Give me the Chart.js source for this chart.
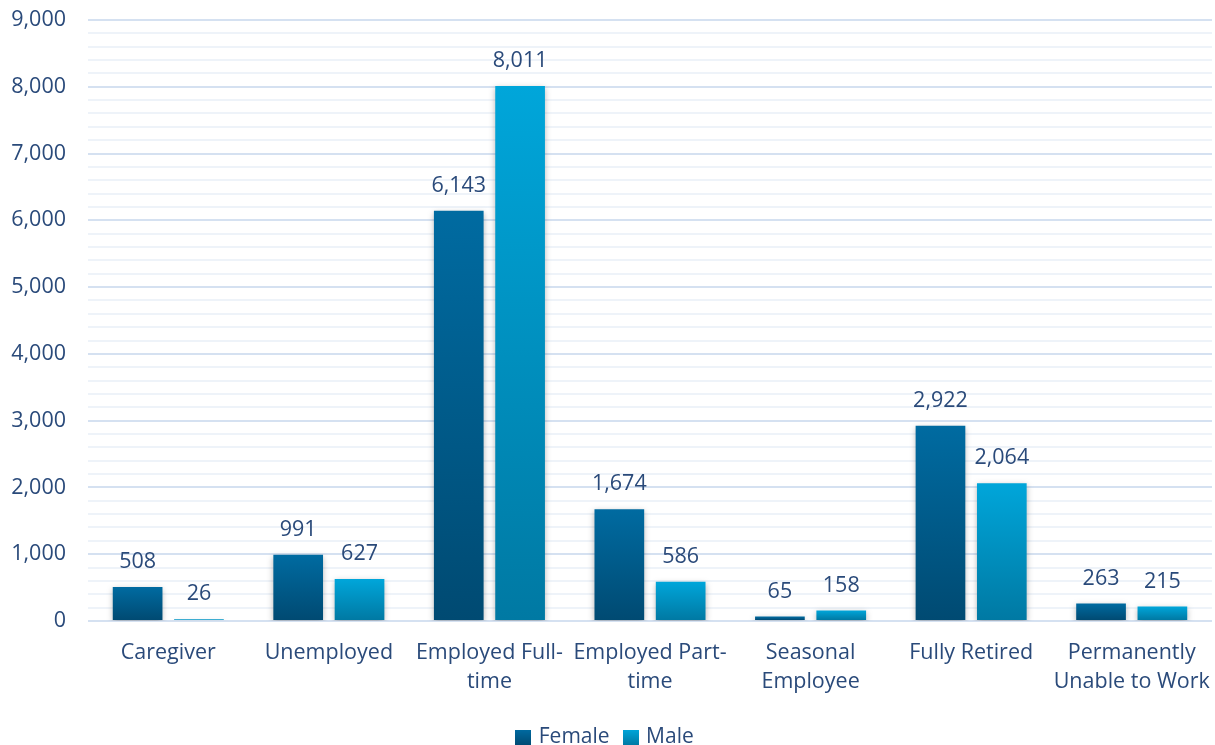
<!DOCTYPE html>
<html>
<head>
<meta charset="utf-8">
<script src="https://cdn.jsdelivr.net/npm/chart.js@4/dist/chart.umd.min.js"></script>
<style>
  html, body { margin: 0; padding: 0; background: #ffffff; }
  #wrap { width: 1215px; height: 745px; position: relative; }
</style>
</head>
<body>
<div id="wrap"><canvas id="c" width="1215" height="745"></canvas></div>
<script>
const categories = [
  "Caregiver",
  "Unemployed",
  ["Employed Full-", "time"],
  ["Employed Part-", "time"],
  ["Seasonal", "Employee"],
  "Fully Retired",
  ["Permanently", "Unable to Work"]
];
const seriesNames = ["Female", "Male"];
const femaleValues = [508, 991, 6143, 1674, 65, 2922, 263];
const maleValues = [26, 627, 8011, 586, 158, 2064, 215];
const yMin = 0;
const yMax = 9000;
const yMajorStep = 1000;
const yMinorStep = 200;

const textColor = '#2a4a7a';
const fontFamily = "'Open Sans', 'Noto Sans', sans-serif";
const gradStops = {
  Female: ['#006ba1', '#004a72'],
  Male: ['#00a6da', '#0079a3']
};

const barStylePlugin = {
  id: 'barStyle',
  beforeDatasetsDraw(chart) {
    const ctx = chart.ctx;
    chart.data.datasets.forEach((ds, i) => {
      const meta = chart.getDatasetMeta(i);
      const stops = gradStops[ds.label];
      meta.data.forEach(el => {
        const top = Math.min(el.y, el.base);
        const bot = Math.max(el.y, el.base);
        const g = ctx.createLinearGradient(0, top, 0, bot + 0.01);
        g.addColorStop(0, stops[0]);
        g.addColorStop(1, stops[1]);
        el.options = Object.assign({}, el.options, { backgroundColor: g });
      });
    });
  },
  beforeDatasetDraw(chart) {
    const ctx = chart.ctx;
    ctx.save();
    ctx.shadowColor = 'rgba(0,0,0,0.28)';
    ctx.shadowBlur = 6;
    ctx.shadowOffsetX = 0;
    ctx.shadowOffsetY = 2;
  },
  afterDatasetDraw(chart) {
    chart.ctx.restore();
  },
  afterDatasetsDraw(chart) {
    const ctx = chart.ctx;
    ctx.save();
    ctx.font = "21.5px " + fontFamily;
    ctx.fillStyle = textColor;
    ctx.textAlign = 'center';
    ctx.textBaseline = 'middle';
    chart.data.datasets.forEach((ds, i) => {
      const meta = chart.getDatasetMeta(i);
      meta.data.forEach((el, j) => {
        ctx.fillText(ds.data[j].toLocaleString('en-US'), el.x, el.y - 25);
      });
    });
    ctx.restore();
  }
};

function legendSwatch(name) {
  const c = document.createElement('canvas');
  c.width = 16; c.height = 16;
  const x = c.getContext('2d');
  const g = x.createLinearGradient(0, 0, 0, 16);
  g.addColorStop(0, gradStops[name][0]);
  g.addColorStop(1, gradStops[name][1]);
  x.fillStyle = g;
  x.fillRect(0, 0, 16, 16);
  return c;
}

new Chart(document.getElementById('c'), {
  type: 'bar',
  data: {
    labels: categories,
    datasets: [
      { label: seriesNames[0], data: femaleValues, backgroundColor: gradStops.Female[0], borderWidth: 0 },
      { label: seriesNames[1], data: maleValues, backgroundColor: gradStops.Male[0], borderWidth: 0 }
    ]
  },
  options: {
    responsive: false,
    animation: false,
    devicePixelRatio: 1,
    categoryPercentage: 0.764,
    barPercentage: 0.81,
    layout: { padding: { left: 0, right: 3, top: 20, bottom: -13 } },
    scales: {
      x: {
        grid: { display: false, drawTicks: false },
        border: { display: false },
        ticks: {
          color: textColor,
          font: { family: fontFamily, size: 21.5, lineHeight: 1.35 },
          padding: 17,
          maxRotation: 0,
          autoSkip: false
        },
        afterFit: (scale) => {
          scale.height -= 2;
          scale.paddingLeft = 0;
          scale.paddingRight = 0;
        }
      },
      y: {
        min: yMin,
        max: yMax,
        border: { display: false },
        grid: {
          drawTicks: false,
          lineWidth: 2,
          color: (ctx) => (ctx.tick && ctx.tick.value % yMajorStep === 0) ? '#d5e1f1' : '#eef3f9'
        },
        ticks: {
          stepSize: yMinorStep,
          autoSkip: false,
          color: textColor,
          padding: 22,
          font: { family: fontFamily, size: 21.5 },
          callback: (v) => (v % yMajorStep === 0) ? v.toLocaleString('en-US') : ''
        },
        afterFit: (scale) => {
          scale.width = 88;
          scale.paddingTop = 0;
          scale.paddingBottom = 0;
        }
      }
    },
    plugins: {
      legend: {
        position: 'bottom',
        labels: {
          color: textColor,
          font: { family: fontFamily, size: 21 },
          usePointStyle: true,
          pointStyleWidth: 10,
          padding: 16,
          generateLabels: (chart) => chart.data.datasets.map((ds, i) => ({
            text: ds.label,
            pointStyle: legendSwatch(ds.label),
            fontColor: textColor,
            lineWidth: 0,
            datasetIndex: i,
            hidden: false
          }))
        }
      },
      tooltip: { enabled: false }
    }
  },
  plugins: [barStylePlugin]
});
</script>
</body>
</html>
